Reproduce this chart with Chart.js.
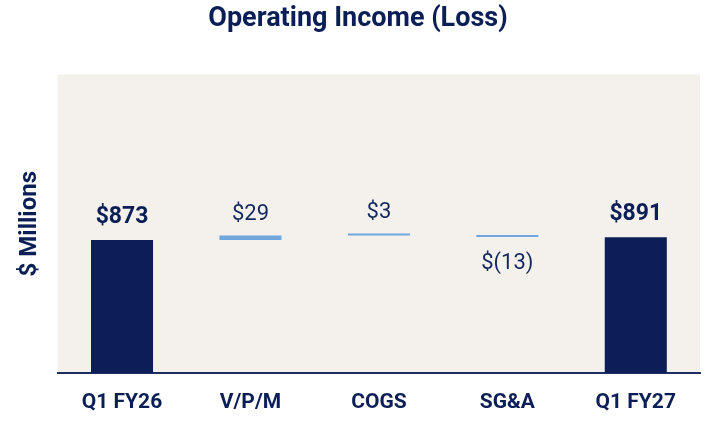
<!DOCTYPE html>
<html>
<head>
<meta charset="utf-8">
<script src="https://cdn.jsdelivr.net/npm/chart.js@4"></script>
<style>
  html, body { margin: 0; padding: 0; background: #fff; }
  #wrap { width: 710px; height: 422px; }
</style>
</head>
<body>
<div id="wrap"><canvas id="chart" width="710" height="422"></canvas></div>
<script>
const categories = ["Q1 FY26", "V/P/M", "COGS", "SG&A", "Q1 FY27"];
const startTotal = 873;
const changes = [29, 3, -13];
const endTotal = 891;
const valueLabels = ["$873", "$29", "$3", "$(13)", "$891"];

const navy = "#0b1f56";
const lightBlue = "#6fa8dc";
const plotBg = "#f4f1ec";

// floating bars: totals start at zero, changes float off the running sum
const ranges = [[0, startTotal]];
let running = startTotal;
changes.forEach(c => {
  ranges.push([running, running + c]);
  running += c;
});
ranges.push([0, endTotal]);
const isTotal = [true, false, false, false, true];

const plotBackground = {
  id: "plotBackground",
  beforeDraw(chart) {
    const { ctx, chartArea: a } = chart;
    ctx.save();
    ctx.fillStyle = plotBg;
    ctx.fillRect(a.left, a.top, a.right - a.left, a.bottom - a.top);
    ctx.restore();
  }
};

const valueText = {
  id: "valueText",
  afterDatasetsDraw(chart) {
    const { ctx } = chart;
    const meta = chart.getDatasetMeta(0);
    ctx.save();
    ctx.textAlign = "center";
    ctx.textBaseline = "alphabetic";
    meta.data.forEach((bar, i) => {
      const [lo, hi] = ranges[i];
      const top = Math.min(bar.y, bar.base);
      const bottom = Math.max(bar.y, bar.base);
      if (isTotal[i]) {
        ctx.font = "bold 23px Roboto";
        ctx.fillStyle = navy;
        ctx.fillText(valueLabels[i], bar.x, top - 17);
      } else if (hi >= lo) {
        ctx.font = "22px Roboto";
        ctx.fillStyle = "#14295f";
        ctx.fillText(valueLabels[i], bar.x, top - 16);
      } else {
        ctx.font = "22px Roboto";
        ctx.fillStyle = "#14295f";
        ctx.fillText(valueLabels[i], bar.x, bottom + 32);
      }
    });
    ctx.restore();
  }
};

new Chart(document.getElementById("chart"), {
  type: "bar",
  data: {
    labels: categories,
    datasets: [{
      data: ranges,
      backgroundColor: isTotal.map(t => t ? navy : lightBlue),
      borderWidth: 0,
      barPercentage: 0.483,
      categoryPercentage: 1,
      minBarLength: 2
    }]
  },
  options: {
    responsive: false,
    animation: false,
    layout: { padding: { left: 16, right: 10, bottom: 0, top: 0 } },
    plugins: {
      legend: { display: false },
      tooltip: { enabled: false },
      title: {
        display: true,
        text: "Operating Income (Loss)",
        color: navy,
        font: { family: "Roboto", size: 27, weight: "bold" },
        padding: { top: 3, bottom: 39 }
      }
    },
    scales: {
      x: {
        grid: { display: false, drawTicks: false },
        border: { display: true, color: "#1b2f63", width: 2 },
        ticks: {
          color: navy,
          padding: 17,
          font: { family: "Roboto", size: 21, weight: "bold" }
        },
        afterFit(scale) { scale.height = 49; }
      },
      y: {
        min: 0,
        max: 1960,
        grid: { display: false, drawTicks: false },
        border: { display: false },
        ticks: { display: false },
        title: {
          display: true,
          text: "$ Millions",
          color: navy,
          font: { family: "Roboto", size: 24, weight: "bold" },
          padding: { top: 0, bottom: 13 }
        }
      }
    }
  },
  plugins: [plotBackground, valueText]
});
</script>
</body>
</html>
